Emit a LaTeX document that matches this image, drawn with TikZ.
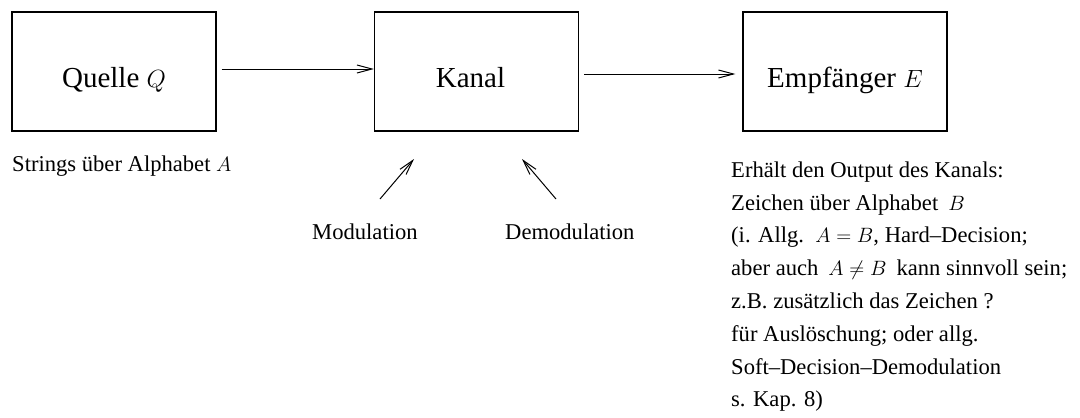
\documentclass[tikz,border=0pt]{standalone}
\usepackage{fontspec}
\setmainfont{Liberation Serif}
\usetikzlibrary{arrows.meta}

\tikzset{
  blockbox/.style={draw, line width=1.2pt, inner sep=0pt,
    minimum width=204pt, minimum height=119pt,
    text height=31pt, text depth=0pt,
    font=\fontsize{29}{35}\selectfont},
  flow/.style={line width=1pt, -{Straight Barb[length=15pt,width=8pt]}},
  note/.style={inner sep=0pt, anchor=base west,
    font=\fontsize{22.6}{32.8}\selectfont},
  notebox/.style={inner sep=0pt, anchor=north west, align=left,
    font=\fontsize{22.6}{32.8}\selectfont},
}

\begin{document}
\begin{tikzpicture}[x=1pt, y=-1pt]
  \useasboundingbox (0,0) rectangle (1080,418);

  % the three blocks of the transmission chain
  \node[blockbox] (q) at (114,71.5) {Quelle $Q$};
  \node[blockbox] (k) at (476.5,71.5) {Kanal\kern12pt};
  \node[blockbox] (e) at (845,71.5) {Empf\"anger $E$};

  % signal flow between the blocks
  \draw[flow, shorten <=5pt] ([yshift=2.5pt]q.east) -- ([yshift=2.5pt]k.west);
  \draw[flow, shorten <=5pt, shorten >=7pt] ([yshift=-2.5pt]k.east) -- ([yshift=-2.5pt]e.west);

  % annotations
  \node[note] (qa) at (12,171) {Strings \"uber Alphabet $A$};
  \node[note] (mod) at (312,239) {Modulation};
  \node[note] (demod) at (505,239) {Demodulation};

  \coordinate (m1) at (380,199);
  \coordinate (m2) at (414,159);
  \coordinate (d1) at (556,199);
  \coordinate (d2) at (522,159);
  \draw[flow] (m1) -- (m2);
  \draw[flow] (d1) -- (d2);

  % first baseline at y = 177 (strut height 0.7 x 32.8pt)
  \node[notebox] (ea) at (731,154.04) {\strut Erh\"alt den Output des Kanals:\\
    Zeichen \"uber Alphabet\hspace{10pt}$B$\\
    (i. Allg.\ \ $A=B$, Hard--Decision;\\
    aber auch\hspace{10pt}$A\neq B$\hspace{10pt}kann sinnvoll sein;\\
    z.B. zus\"atzlich das Zeichen ?\\
    f\"ur Ausl\"oschung; oder allg.\\
    Soft--Decision--Demodulation\\
    s. Kap. 8)};
\end{tikzpicture}
\end{document}
